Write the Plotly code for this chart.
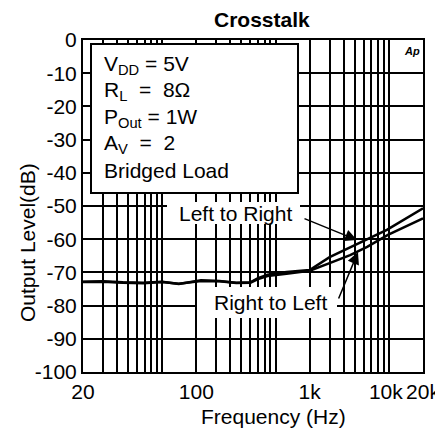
import plotly.graph_objects as go

# ---- data ----
freq_l2r = [20, 30, 45, 68, 100, 140, 220, 320, 450, 600, 700, 850, 1250, 2000, 3000, 5500, 9600, 20000]
level_l2r = [-72.8, -72.7, -73.0, -73.1, -72.8, -73.5, -72.4, -72.6, -73.1, -73.0, -71.7, -70.7, -69.9, -69.3, -65.4, -61.2, -57.2, -50.7]

freq_r2l = [20, 30, 45, 68, 100, 140, 220, 320, 450, 600, 700, 850, 1250, 2000, 3000, 4550, 6430, 9800, 20000]
level_r2l = [-72.9, -72.8, -73.1, -73.3, -72.9, -73.4, -72.6, -72.7, -73.2, -73.1, -72.0, -71.1, -70.4, -69.5, -67.2, -64.8, -62.3, -58.7, -53.7]

x_tick_vals = [20, 200, 2000, 9400, 20000]
x_tick_text = ["20", "100", "1k", "10k", "20k"]
x_grid_vals = [30, 40, 50, 60, 70, 80, 90, 100, 200, 300, 400, 500, 600, 700, 800, 900, 1000,
               2000, 3000, 4000, 5000, 6000, 7000, 8000, 9000, 10000]
y_tick_vals = [0, -10, -20, -30, -40, -50, -60, -70, -80, -90, -100]
y_tick_text = ["0", "-10", "-20", "-30", "-40", "-50", "-60", "-70", "-80", "-90", "-100"]

title_text = "Crosstalk"
x_title = "Frequency (Hz)"
y_title = "Output Level(dB)"
info_lines = ["V<sub>DD</sub> = 5V", "R<sub>L</sub>  =  8Ω", "P<sub>Out</sub> = 1W",
              "A<sub>V</sub>  =  2", "Bridged Load"]

FONT = "Liberation Sans, Arial, sans-serif"
FS = 21
OFF = 8  # page body margin offset

fig = go.Figure()
fig.add_trace(go.Scatter(x=freq_r2l, y=level_r2l, mode="lines", name="Right to Left",
                         line=dict(color="black", width=2.5), showlegend=False))
fig.add_trace(go.Scatter(x=freq_l2r, y=level_l2r, mode="lines", name="Left to Right",
                         line=dict(color="black", width=2.5), showlegend=False))

def px2paper(px, py):
    return (px - 83) / 340.0, (372 - py) / 332.0

shapes = []
x0, y0 = px2paper(91, 193)
x1, y1 = px2paper(298, 44)
shapes.append(dict(type="rect", xref="paper", yref="paper", x0=x0, y0=y0, x1=x1, y1=y1,
                   fillcolor="white", line=dict(color="black", width=2), layer="above"))
for (a, b, c, d) in [(167, 202, 300, 224), (197, 287, 337, 318)]:
    x0, y0 = px2paper(a, d)
    x1, y1 = px2paper(c, b)
    shapes.append(dict(type="rect", xref="paper", yref="paper", x0=x0, y0=y0, x1=x1, y1=y1,
                       fillcolor="white", line=dict(width=0), layer="above"))

def txt(text, px, py, size=FS, xanchor="center", angle=0):
    x, y = px2paper(px, py)
    return dict(text=text, xref="paper", yref="paper", x=x, y=y, xanchor=xanchor,
                yanchor="middle", showarrow=False, textangle=angle,
                font=dict(family=FONT, size=size, color="black"))

annotations = []
for i, t in enumerate(info_lines):
    annotations.append(txt(t, 102, 65 + i * 26.3, xanchor="left"))
annotations.append(txt("Left to Right", 235, 213))
annotations.append(txt("Right to Left", 270, 302))
annotations.append(txt("<b>" + title_text + "</b>", 262, 20, size=21))
annotations.append(txt(x_title, 273, 416))
annotations.append(txt(y_title, 27, 243, angle=-90))
annotations.append(txt("<b><i>Ap</i></b>", 412, 51, size=11))

tx, ty = px2paper(357, 240)
annotations.append(dict(text="", xref="paper", yref="paper", x=tx, y=ty, ax=-54, ay=-22,
                        showarrow=True, arrowhead=2, arrowsize=1.6, arrowwidth=1.5,
                        arrowcolor="black"))
tx, ty = px2paper(358, 252)
annotations.append(dict(text="", xref="paper", yref="paper", x=tx, y=ty, ax=-20, ay=48,
                        showarrow=True, arrowhead=2, arrowsize=1.6, arrowwidth=1.5,
                        arrowcolor="black"))

W, H = 443 - OFF, 432 - OFF
fig.update_layout(
    width=W, height=H,
    margin=dict(l=83 - OFF, r=W - (423 - OFF), t=40 - OFF, b=H - (372 - OFF), autoexpand=False),
    paper_bgcolor="white", plot_bgcolor="white",
    font=dict(family=FONT, size=FS, color="black"),
    shapes=shapes, annotations=annotations,
)

fig.update_xaxes(type="log", range=[1.30103, 4.30103], automargin=False,
                 tickmode="array", tickvals=x_tick_vals, ticktext=x_tick_text, tickangle=0,
                 showgrid=False,
                 minor=dict(tickmode="array", tickvals=x_grid_vals, showgrid=True,
                            gridcolor="black", gridwidth=2, ticks=""),
                 showline=True, linecolor="black", linewidth=2, mirror=True,
                 ticks="", zeroline=False, tickfont=dict(size=FS))
fig.update_yaxes(range=[-100, 0], tickmode="array", tickvals=y_tick_vals, ticktext=y_tick_text,
                 automargin=False,
                 showgrid=True, gridcolor="black", gridwidth=2,
                 showline=True, linecolor="black", linewidth=2, mirror=True,
                 ticks="", zeroline=False, tickfont=dict(size=FS))

fig.write_html("out.html")
